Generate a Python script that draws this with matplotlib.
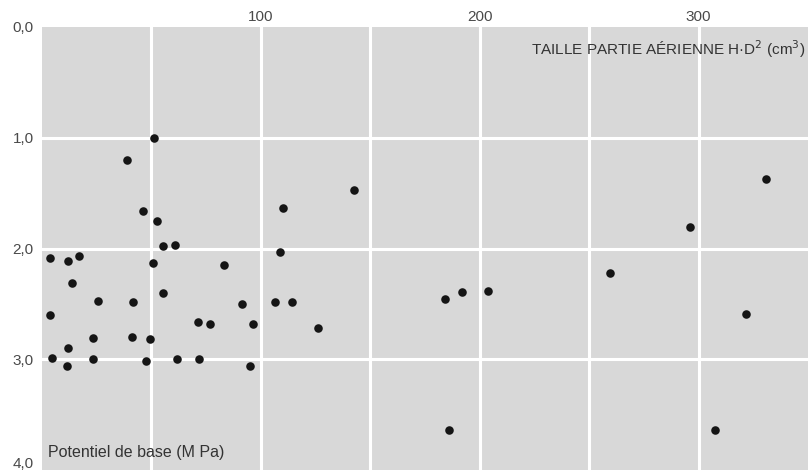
import matplotlib.pyplot as plt

# taille partie aérienne H·D² (cm3) vs potentiel de base (MPa)
taille = [51, 39, 46, 52.5, 110, 142.5, 331, 296,
          3.7, 12, 17, 13.7, 25.6, 3.7, 41.6, 55.3, 60.7, 50.7, 55.3, 83,
          108.7, 91.3, 106.4, 114.2, 71.2, 76.7, 96.3, 126, 23.3, 41, 49.3,
          12, 4.6, 11.4, 23.3, 47.5, 61.6, 71.7, 95,
          184, 191.8, 204, 259.4, 321.5, 185.8, 307.3]
potentiel = [1.00, 1.20, 1.66, 1.75, 1.63, 1.47, 1.37, 1.81,
             2.09, 2.11, 2.07, 2.31, 2.47, 2.60, 2.48, 1.98, 1.97, 2.13, 2.40, 2.15,
             2.03, 2.50, 2.48, 2.48, 2.66, 2.68, 2.68, 2.72, 2.81, 2.80, 2.82,
             2.90, 2.99, 3.06, 3.00, 3.02, 3.00, 3.00, 3.06,
             2.46, 2.39, 2.38, 2.22, 2.59, 3.64, 3.64]

x_ticks = [100, 200, 300]
y_ticks = [0.0, 1.0, 2.0, 3.0]
y_labels = ["0,0", "1,0", "2,0", "3,0"]

plt.rcParams["font.family"] = ["Liberation Sans", "DejaVu Sans"]

fig = plt.figure(figsize=(8.1, 4.7), dpi=100)
ax = fig.add_axes([42 / 810, 1 - 470 / 470, 766 / 810, 443 / 470])
ax.set_facecolor("#d8d8d8")

ax.set_xlim(0, 350)
ax.set_ylim(4.0, 0.0)

# white grid: every 50 in x, every 1.0 in y
for gx in range(50, 350, 50):
    ax.axvline(gx, color="white", lw=2.2, zorder=1)
for gy in [1.0, 2.0, 3.0]:
    ax.axhline(gy, color="white", lw=2.2, zorder=1)

ax.scatter(taille, potentiel, s=38, color="#151515", zorder=3, linewidths=0)

ax.xaxis.tick_top()
ax.set_xticks(x_ticks)
ax.set_xticklabels([str(t) for t in x_ticks])
ax.set_yticks(y_ticks)
ax.set_yticklabels(y_labels)
ax.tick_params(length=0, labelsize=11, labelcolor="#4a4a4a")
ax.tick_params(axis="x", pad=2)
ax.tick_params(axis="y", pad=6)
for s in ax.spines.values():
    s.set_visible(False)

# bottom label 4,0 sits at the page edge, lifted a little so it stays visible
ax.annotate("4,0", xy=(0, 4.0), xycoords=("axes fraction", "data"),
            xytext=(-6, 4), textcoords="offset points", ha="right", va="center",
            fontsize=11, color="#4a4a4a")

ax.text(0.996, 0.95, "TAILLE PARTIE AÉRIENNE H·D$^2$ (cm$^3$)",
        transform=ax.transAxes, ha="right", va="center", fontsize=11, color="#333333")
ax.text(0.008, 0.04, "Potentiel de base (M Pa)",
        transform=ax.transAxes, ha="left", va="center", fontsize=11.5, color="#333333")

fig.savefig("out.png", dpi=100, facecolor="white")
